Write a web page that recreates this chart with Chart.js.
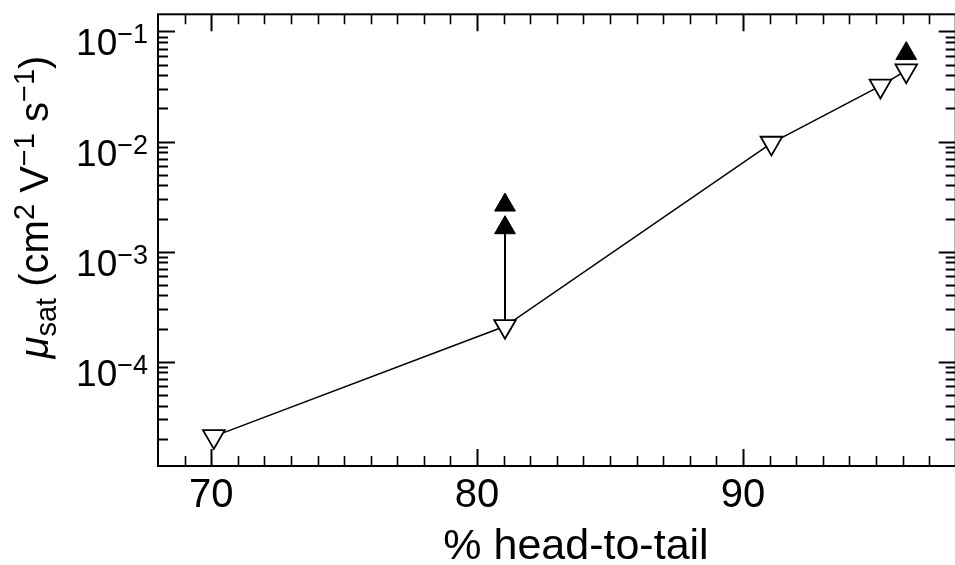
<!DOCTYPE html>
<html>
<head>
<meta charset="utf-8">
<script src="https://cdn.jsdelivr.net/npm/chart.js@4.4.1/dist/chart.umd.min.js"></script>
<style>
    html, body { margin: 0; padding: 0; background: #fff; }
    #wrap { width: 955px; height: 565px; overflow: hidden; }
</style>
</head>
<body>
<div id="wrap"><canvas id="mobilityChart" width="970" height="565"></canvas></div>
<script>
// Saturated mobility vs. regioregularity
const headToTail = [70.1, 81.05, 91.07, 95.17, 96.14];
const mobility = [2.1e-5, 2.1e-4, 9.7e-3, 3.2e-2, 4.4e-2];

// Filled markers (lower-bound values)
const boundX = [81.05, 81.05, 96.14];
const boundMobility = [2.65e-3, 1.65e-3, 6.3e-2];

// Arrow from the 81 % sample up to its filled markers
const arrowX = [81.05, 81.05];
const arrowMobility = [2.1e-4, 1.65e-3];

// Axes
const xTicks = [70, 80, 90];
const yTicks = [1e-1, 1e-2, 1e-3, 1e-4];
const yExponents = ["\u22121", "\u22122", "\u22123", "\u22124"];
const xRange = [68, 98];
const yRange = [1.13e-5, 0.1432];

const FONT = '"Liberation Sans", Arial, Helvetica, sans-serif';

function toPoints(xs, ys) {
    return xs.map((x, i) => ({ x, y: ys[i] }));
}

// Draw a run of text pieces with different sizes / offsets (super- and subscripts)
function drawRich(ctx, parts, x, y, align) {
    let width = 0;
    parts.forEach((p) => {
        ctx.font = `${p.italic ? "italic " : ""}${p.size}px ${FONT}`;
        p.w = ctx.measureText(p.text).width;
        width += p.w;
    });
    let cx = align === "right" ? x - width : align === "center" ? x - width / 2 : x;
    parts.forEach((p) => {
        ctx.font = `${p.italic ? "italic " : ""}${p.size}px ${FONT}`;
        ctx.fillText(p.text, cx, y + (p.dy || 0));
        cx += p.w;
    });
}

// Boxed frame with inward ticks on all four sides, plus labels and titles
const framePlugin = {
    id: "frame",
    beforeDatasetsDraw(chart) {
        const { ctx, chartArea: a, scales } = chart;
        const xs = scales.x;
        const ys = scales.y;
        ctx.save();
        ctx.strokeStyle = "#000";
        ctx.fillStyle = "#000";
        ctx.lineCap = "butt";

        // minor + major ticks along x (bottom and top)
        for (let v = xRange[0] + 1; v < xRange[1]; v++) {
            const px = Math.round(xs.getPixelForValue(v)) + 0.5;
            const major = v % 10 === 0;
            const len = major ? 17 : 10;
            ctx.lineWidth = major ? 2 : 1.6;
            ctx.beginPath();
            ctx.moveTo(px, a.bottom);
            ctx.lineTo(px, a.bottom - len);
            ctx.moveTo(px, a.top);
            ctx.lineTo(px, a.top + len);
            ctx.stroke();
        }

        // log ticks along y (left and right)
        for (let e = -5; e <= -1; e++) {
            for (let k = 1; k <= 9; k++) {
                const v = k * Math.pow(10, e);
                if (v < yRange[0] || v > yRange[1]) continue;
                const py = Math.round(ys.getPixelForValue(v)) + 0.5;
                const len = k === 1 ? 17 : 10;
                ctx.lineWidth = 2;
                ctx.beginPath();
                ctx.moveTo(a.left, py);
                ctx.lineTo(a.left + len, py);
                ctx.moveTo(a.right, py);
                ctx.lineTo(a.right - len, py);
                ctx.stroke();
            }
        }

        // frame
        ctx.lineWidth = 2;
        ctx.strokeRect(a.left, a.top, a.right - a.left, a.bottom - a.top);

        ctx.textBaseline = "alphabetic";
        ctx.textAlign = "left";

        // x tick labels
        xTicks.forEach((v) => {
            drawRich(ctx, [{ text: String(v), size: 40 }], xs.getPixelForValue(v), 507, "center");
        });

        // y tick labels: 10 with superscript exponent
        yTicks.forEach((v, i) => {
            const py = ys.getPixelForValue(v);
            drawRich(ctx, [
                { text: "10", size: 37 },
                { text: yExponents[i], size: 27, dy: -12 },
            ], 148, py + 24, "right");
        });

        // x title
        drawRich(ctx, [{ text: "% head-to-tail", size: 43 }], 576, 559, "center");

        // y title (rotated)
        ctx.translate(48, 207);
        ctx.rotate(-Math.PI / 2);
        drawRich(ctx, [
            { text: "\u03bc", size: 40, italic: true },
            { text: "sat", size: 29, dy: 8 },
            { text: " (cm", size: 40 },
            { text: "2", size: 29, dy: -14 },
            { text: " V", size: 40 },
            { text: "\u22121", size: 29, dy: -14 },
            { text: " s", size: 40 },
            { text: "\u22121", size: 29, dy: -14 },
            { text: ")", size: 40 },
        ], 0, 0, "center");
        ctx.restore();
    },
};

new Chart(document.getElementById("mobilityChart"), {
    type: "scatter",
    data: {
        datasets: [
            {
                // open down-triangles joined by a line
                data: toPoints(headToTail, mobility),
                showLine: true,
                borderColor: "#000",
                borderWidth: 1.5,
                pointStyle: "triangle",
                pointRotation: 180,
                pointRadius: 12.5,
                pointBorderWidth: 1.8,
                pointBackgroundColor: "#fff",
                pointBorderColor: "#000",
            },
            {
                data: toPoints(boundX, boundMobility),
                showLine: false,
                pointStyle: "triangle",
                pointRadius: 12,
                pointBorderWidth: 1,
                pointBackgroundColor: "#000",
                pointBorderColor: "#000",
            },
            {
                data: toPoints(arrowX, arrowMobility),
                showLine: true,
                borderColor: "#000",
                borderWidth: 2,
                pointRadius: 0,
            },
        ],
    },
    options: {
        responsive: false,
        animation: false,
        events: [],
        layout: { padding: { left: 158, top: 11, right: 8, bottom: 99 } },
        plugins: {
            legend: { display: false },
            tooltip: { enabled: false },
        },
        scales: {
            x: {
                type: "linear",
                display: false,
                min: xRange[0],
                max: xRange[1],
            },
            y: {
                type: "logarithmic",
                display: false,
                min: yRange[0],
                max: yRange[1],
            },
        },
    },
    plugins: [framePlugin],
});
</script>
</body>
</html>
